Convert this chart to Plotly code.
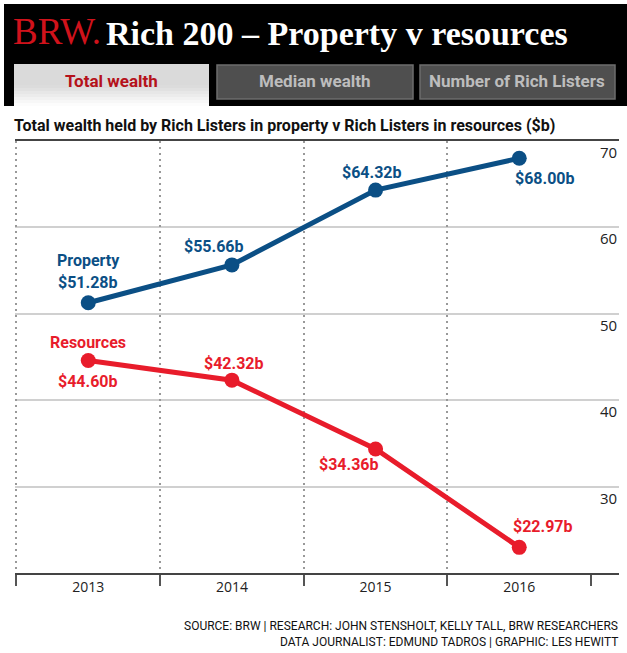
import plotly.graph_objects as go

years = ["2013", "2014", "2015", "2016"]
property_vals = [51.28, 55.66, 64.32, 68.00]
resources_vals = [44.60, 42.32, 34.36, 22.97]
property_labels = ["$51.28b", "$55.66b", "$64.32b", "$68.00b"]
resources_labels = ["$44.60b", "$42.32b", "$34.36b", "$22.97b"]
y_ticks = [30, 40, 50, 60, 70]

BLUE = "#0b4f85"
RED = "#e81c2b"

# label offsets in pixels (x right, y up) — styling only
prop_off = [(0, 20), (-18, 18), (-4, 18), (26, -20)]
res_off = [(0, -21), (2, 17), (-27, -16), (24, 21)]

W, H = 627, 653
L, R, T, B = 15, 8, 141, 80
PW = W - L - R
PH = H - T - B


def xp(px):
    return (px - L) / PW


def yp(py):
    return (H - B - py) / PH


xpos = list(range(len(years)))

fig = go.Figure()
fig.add_trace(go.Scatter(
    x=xpos, y=property_vals, mode="lines+markers",
    line=dict(color=BLUE, width=5), marker=dict(size=15, color=BLUE),
    cliponaxis=False, showlegend=False, hoverinfo="skip"))
fig.add_trace(go.Scatter(
    x=xpos, y=resources_vals, mode="lines+markers",
    line=dict(color=RED, width=5), marker=dict(size=15, color=RED),
    cliponaxis=False, showlegend=False, hoverinfo="skip"))
# helper trace for the dotted boundary grid axis
fig.add_trace(go.Scatter(x=[-0.5], y=[20], xaxis="x2", yaxis="y", mode="markers",
                         marker=dict(opacity=0), showlegend=False, hoverinfo="skip"))

xrange = [-0.51, 3.5 + 28 / 144]

fig.update_layout(
    width=W, height=H, margin=dict(l=L, r=R, t=T, b=B),
    paper_bgcolor="white", plot_bgcolor="white",
    xaxis=dict(
        range=xrange, tickvals=xpos, ticktext=years, ticks="",
        showgrid=False, zeroline=False,
        showline=True, mirror=True, linecolor="#444", linewidth=1.5,
        tickfont=dict(family="Open Sans", size=14, color="#222"),
        minor=dict(tickvals=[-0.5, 0.5, 1.5, 2.5, 3.5], ticks="outside",
                   ticklen=11, tickwidth=1.5, tickcolor="#555", showgrid=False),
    ),
    xaxis2=dict(
        overlaying="x", matches="x", range=xrange,
        tickvals=[-0.5, 0.5, 1.5, 2.5], showticklabels=False, ticks="",
        showgrid=True, gridcolor="#999", gridwidth=1.5, griddash="2px,4px",
        zeroline=False, showline=False,
    ),
    yaxis=dict(
        range=[20, 70], tickvals=y_ticks, showticklabels=False, ticks="",
        showgrid=True, gridcolor="#d0d0d0", gridwidth=2,
        zeroline=False, showline=False,
    ),
)

shapes = []
# black header
shapes.append(dict(type="rect", xref="paper", yref="paper",
                   x0=xp(4), x1=xp(628), y0=yp(106), y1=yp(4),
                   fillcolor="black", line=dict(width=0), layer="above"))
# active tab with gradient
shapes.append(dict(type="rect", xref="paper", yref="paper",
                   x0=xp(14), x1=xp(209), y0=yp(85), y1=yp(64),
                   fillcolor="#dadada", line=dict(width=0), layer="above"))
grad = ["#dcdcdc", "#e1e1e1", "#e7e7e7", "#ececec", "#f2f2f2", "#f7f7f7", "#fcfcfc"]
for i, c in enumerate(grad):
    shapes.append(dict(type="rect", xref="paper", yref="paper",
                       x0=xp(14), x1=xp(209), y0=yp(85 + 3 * (i + 1)), y1=yp(85 + 3 * i),
                       fillcolor=c, line=dict(width=0), layer="above"))
for x0, x1 in [(217, 413), (420, 615)]:
    shapes.append(dict(type="rect", xref="paper", yref="paper",
                       x0=xp(x0), x1=xp(x1), y0=yp(99), y1=yp(65),
                       fillcolor="#4f4f4f", line=dict(width=1.5, color="#6e6e6e"),
                       layer="above"))
fig.update_layout(shapes=shapes)

ann = []
ann.append(dict(text="BRW.", xref="paper", yref="paper", x=xp(11), y=yp(31),
                xanchor="left", yanchor="middle", showarrow=False,
                font=dict(family="Liberation Serif", size=37, color="#d0121b")))
ann.append(dict(text="Rich 200 – Property v resources", xref="paper", yref="paper",
                x=xp(104), y=yp(33), xanchor="left", yanchor="middle", showarrow=False,
                font=dict(family="Liberation Serif", size=34, color="white", weight="bold")))
tabs = [("Total wealth", 111, "#b5121b"), ("Median wealth", 315, "#bdbdbd"),
        ("Number of Rich Listers", 517, "#bdbdbd")]
for t, cx, col in tabs:
    ann.append(dict(text=t, xref="paper", yref="paper", x=xp(cx), y=yp(81),
                    xanchor="center", yanchor="middle", showarrow=False,
                    font=dict(family="Roboto", size=17, color=col, weight="bold")))
ann.append(dict(text="Total wealth held by Rich Listers in property v Rich Listers in resources ($b)",
                xref="paper", yref="paper", x=xp(12), y=yp(126), xanchor="left",
                yanchor="middle", showarrow=False,
                font=dict(family="Liberation Sans Narrow, Roboto", size=16, color="#111",
                          weight="bold")))

# data labels
for xv, yv, lab, (dx, dy) in zip(xpos, property_vals, property_labels, prop_off):
    ann.append(dict(text=lab, xref="x", yref="y", x=xv, y=yv, xshift=dx, yshift=dy,
                    xanchor="center", yanchor="middle", showarrow=False,
                    font=dict(family="Roboto", size=16, color=BLUE, weight="bold")))
for xv, yv, lab, (dx, dy) in zip(xpos, resources_vals, resources_labels, res_off):
    ann.append(dict(text=lab, xref="x", yref="y", x=xv, y=yv, xshift=dx, yshift=dy,
                    xanchor="center", yanchor="middle", showarrow=False,
                    font=dict(family="Roboto", size=16, color=RED, weight="bold")))
ann.append(dict(text="Property", xref="x", yref="y", x=xpos[0], y=property_vals[0],
                yshift=42, xanchor="center", yanchor="middle", showarrow=False,
                font=dict(family="Roboto", size=16, color=BLUE, weight="bold")))
ann.append(dict(text="Resources", xref="x", yref="y", x=xpos[0], y=resources_vals[0],
                yshift=18, xanchor="center", yanchor="middle", showarrow=False,
                font=dict(family="Roboto", size=16, color=RED, weight="bold")))

for v in y_ticks:
    ann.append(dict(text=str(v), xref="paper", yref="y", x=1.0, y=v, yshift=-11,
                    xanchor="right", yanchor="middle", showarrow=False,
                    font=dict(family="Open Sans", size=15, color="#222")))
ann.append(dict(text="SOURCE: BRW | RESEARCH: JOHN STENSHOLT, KELLY TALL, BRW RESEARCHERS",
                xref="paper", yref="paper", x=xp(620), y=yp(626), xanchor="right",
                yanchor="middle", showarrow=False,
                font=dict(family="Liberation Sans Narrow, Roboto", size=12, color="#111")))
ann.append(dict(text="DATA JOURNALIST: EDMUND TADROS | GRAPHIC: LES HEWITT",
                xref="paper", yref="paper", x=xp(620), y=yp(642), xanchor="right",
                yanchor="middle", showarrow=False,
                font=dict(family="Liberation Sans Narrow, Roboto", size=12, color="#111")))
fig.update_layout(annotations=ann)

fig.write_html("out.html", config={"displayModeBar": False},
               post_script="document.body.style.margin='0';")
